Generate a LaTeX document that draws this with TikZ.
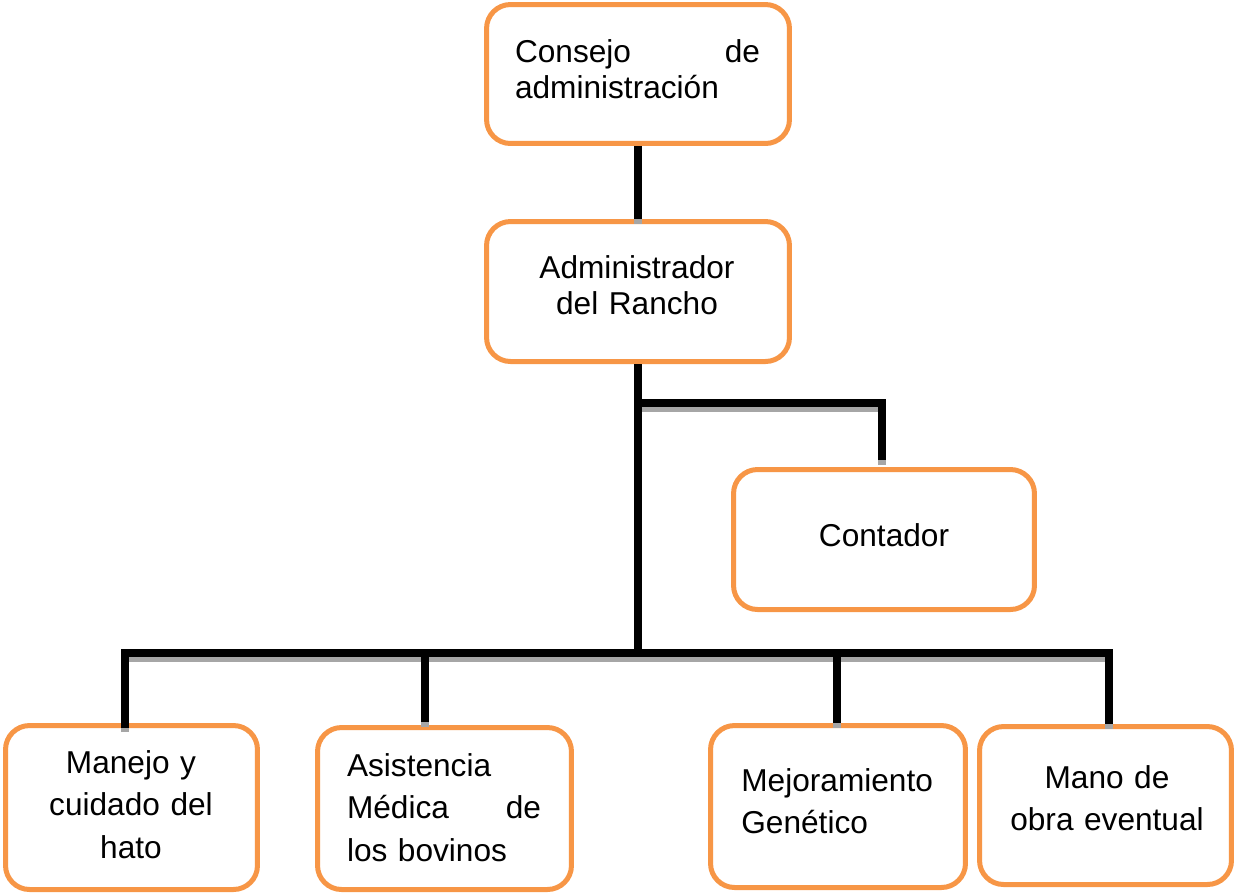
\documentclass[tikz,border=0pt]{standalone}
\usepackage{fontspec}
\setmainfont{Liberation Sans}
\definecolor{boxorange}{HTML}{F79646}
\definecolor{shadowgray}{HTML}{A6A6A6}
\begin{document}
\begin{tikzpicture}[x=0.02cm,y=-0.02cm,
  orgbox/.style={draw=boxorange, line width=0.1cm, rounded corners=0.48cm, fill=white, inner sep=0pt},
  toptxt/.style={inner sep=0pt, font=\fontsize{18pt}{21pt}\selectfont, anchor=base},
  bottxt/.style={inner sep=0pt, font=\fontsize{18pt}{24.2pt}\selectfont, anchor=base},
  link/.style={line width=0.16cm, black, line join=miter},
  linkshadow/.style={line width=0.16cm, shadowgray, line join=miter, transform canvas={yshift=-0.09cm}},
]
\useasboundingbox (0,0) rectangle (1236,894);

% boxes
\node[orgbox, minimum width=6.06cm, minimum height=2.78cm] (consejo) at (638,74) {};
\node[orgbox, minimum width=6.06cm, minimum height=2.80cm] (admin) at (638,291.5) {};
\node[orgbox, minimum width=6.02cm, minimum height=2.80cm] (contador) at (884,539.5) {};
\node[orgbox, minimum width=5.04cm, minimum height=3.28cm] (manejo) at (131.5,807.5) {};
\node[orgbox, minimum width=5.08cm, minimum height=3.24cm] (asist) at (444.5,808.5) {};
\node[orgbox, minimum width=5.10cm, minimum height=3.24cm] (mejora) at (838,806.5) {};
\node[orgbox, minimum width=5.04cm, minimum height=3.16cm] (mano) at (1105.5,805.5) {};

% texts
\node[toptxt, text width=4.9cm, align=left] (consejo-t) at (637.5,62) {Consejo\hfill de\\administración};
\node[toptxt, text width=5cm, align=center] (admin-t) at (637,278) {Administrador\\del Rancho};
\node[toptxt] (contador-t) at (884,546) {Contador};
\node[bottxt, text width=4.5cm, align=center] (manejo-t) at (131,773) {Manejo y\\cuidado del\\hato};
\node[bottxt, text width=3.88cm, align=left] (asist-t) at (444,776) {Asistencia\\Médica\hfill de\\los bovinos};
\node[bottxt, text width=4.3cm, align=left, anchor=base west] (mejora-t) at (741,791) {Mejoramiento\\Genético};
\node[bottxt, text width=4.6cm, align=center] (mano-t) at (1107,788) {Mano de\\obra eventual};

% connector coordinates
\coordinate (busL) at (125,653);
\coordinate (busR) at (1109,653);
\coordinate (b2) at (425,653);
\coordinate (b3) at (837,653);
\coordinate (ctrturn) at (882,403);
\coordinate (ctrend) at (882,460);

\newcommand\orgpaths[1]{%
  \draw[#1] (consejo.south) -- (admin.north);
  \draw[#1] (admin.south) -- (admin.south |- busL);
  \draw[#1] (admin.south |- ctrturn) -- (ctrturn) -- (ctrend);
  \draw[#1, shorten <=-0.09cm] (busL |- manejo.north) -- (busL) -- (busR) -- (busR |- mano.north);
  \draw[#1, shorten >=0.06cm] (b2) -- (b2 |- asist.north);
  \draw[#1] (b3) -- (b3 |- mejora.north);
}
\orgpaths{linkshadow}
\orgpaths{link}
\end{tikzpicture}
\end{document}
